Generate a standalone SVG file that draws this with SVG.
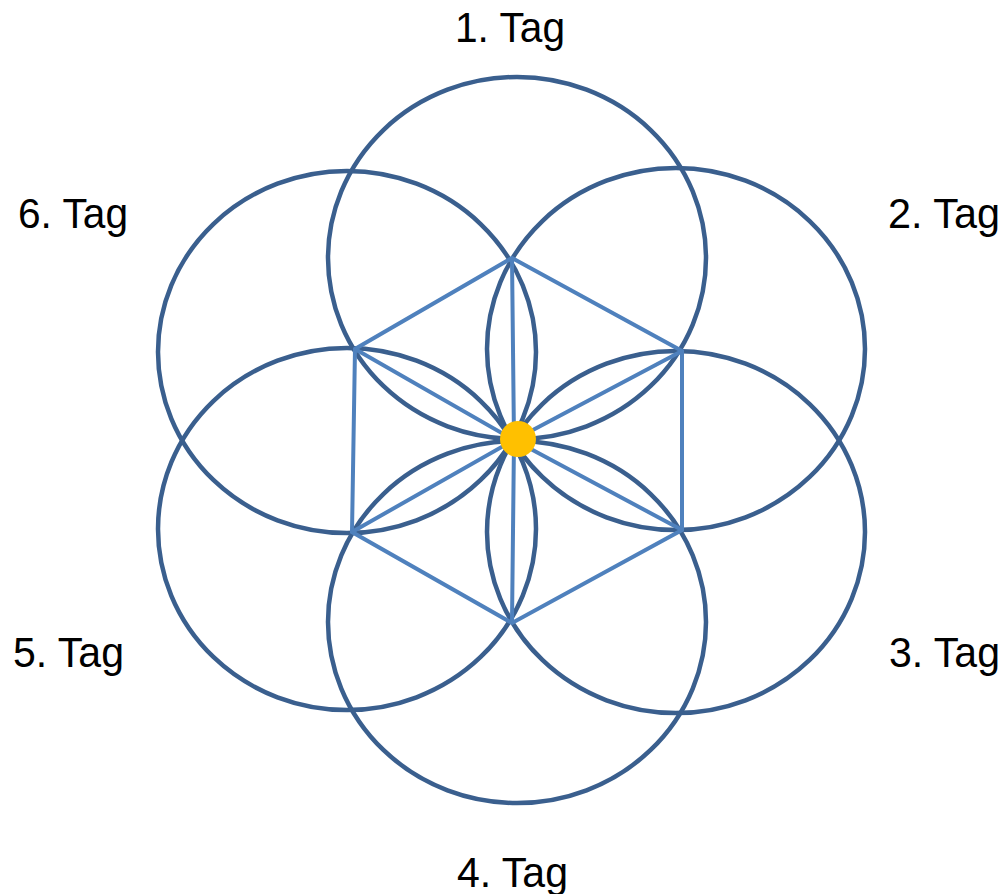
<svg xmlns="http://www.w3.org/2000/svg" width="1005" height="894" viewBox="0 0 1005 894">
<style>
.c{fill:none;stroke:#3A5F8E;stroke-width:4.5}
.l{fill:none;stroke:#4F81BD;stroke-width:4;stroke-linejoin:miter}
.t{font-family:"Liberation Sans",Arial,sans-serif;font-size:42px;fill:#000}
</style>
<rect width="1005" height="894" fill="#fff"/>
<g id="circles">
<ellipse id="c1" class="c" cx="517" cy="258" rx="189" ry="181"/>
<ellipse id="c2" class="c" cx="676" cy="349" rx="189" ry="181"/>
<ellipse id="c3" class="c" cx="676" cy="532" rx="189" ry="181"/>
<ellipse id="c4" class="c" cx="517" cy="622" rx="189" ry="181"/>
<ellipse id="c5" class="c" cx="347" cy="529" rx="189" ry="181"/>
<ellipse id="c6" class="c" cx="347" cy="352" rx="189" ry="181"/>
</g>
<g id="connectors">
<polygon class="l" points="512,258 682,351 682,530 512,623 352,532 355,349"/>
<path class="l" d="M514,440 L512,258 M514,440 L682,351 M514,440 L682,530 M514,440 L512,623 M514,440 L352,532 M514,440 L355,349"/>
</g>
<g id="center"><circle cx="518" cy="439" r="18" fill="#FFC000"/></g>
<g id="labels">
<text id="t1" class="t" x="455" y="42" textLength="110" lengthAdjust="spacingAndGlyphs">1. Tag</text>
<text id="t2" class="t" x="888" y="228" textLength="112" lengthAdjust="spacingAndGlyphs">2. Tag</text>
<text id="t3" class="t" x="889" y="667" textLength="111" lengthAdjust="spacingAndGlyphs">3. Tag</text>
<text id="t4" class="t" x="457" y="887" textLength="111" lengthAdjust="spacingAndGlyphs">4. Tag</text>
<text id="t5" class="t" x="13" y="667" textLength="111" lengthAdjust="spacingAndGlyphs">5. Tag</text>
<text id="t6" class="t" x="18" y="228" textLength="110" lengthAdjust="spacingAndGlyphs">6. Tag</text>
</g>
</svg>
